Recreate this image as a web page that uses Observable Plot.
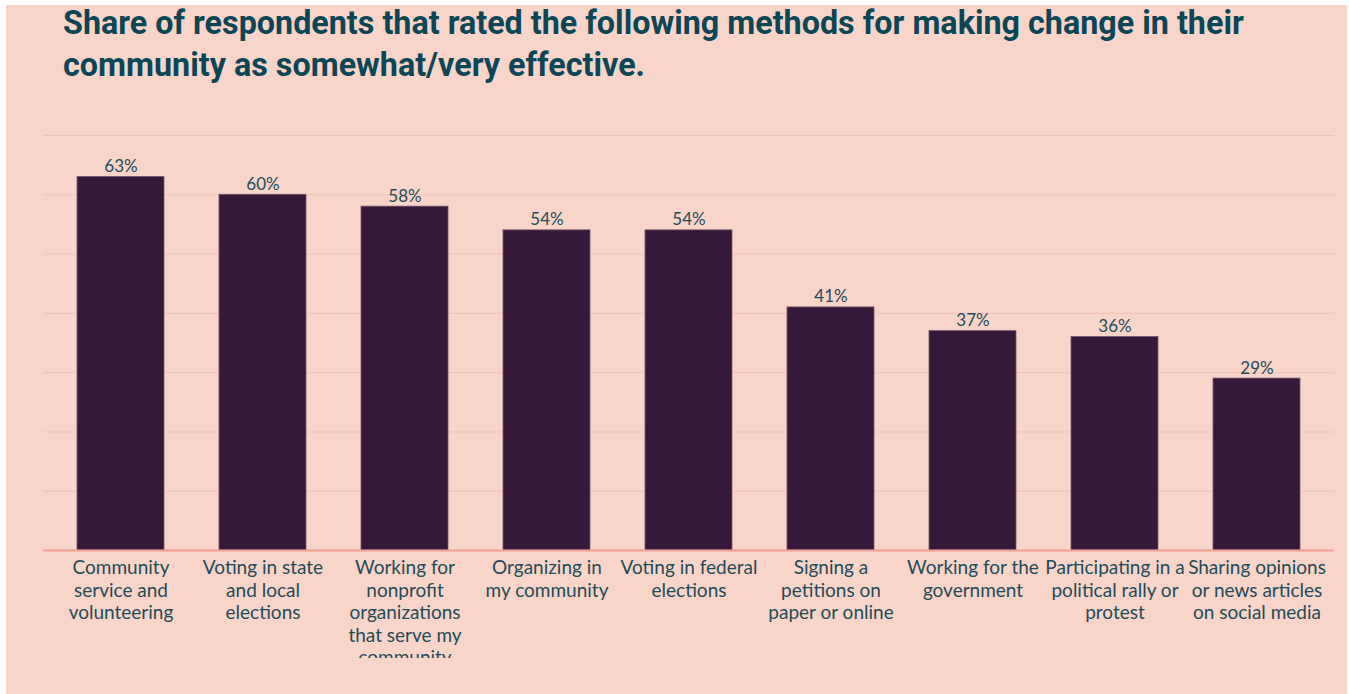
<!DOCTYPE html>
<html><head><meta charset="utf-8">
<script src="https://cdn.jsdelivr.net/npm/d3@7"></script>
<script src="https://cdn.jsdelivr.net/npm/@observablehq/plot@0.6"></script>
<style>
body{margin:0;background:#fff;width:1349px;height:694px;overflow:hidden;position:relative;font-family:Lato,sans-serif}
#card{position:absolute;left:6px;top:5px;width:1341px;height:689px;background:#F9D4C9}
#title{position:absolute;left:63px;top:2px;margin:0;font:700 32.3px/42px Roboto,sans-serif;color:#0B4656;white-space:nowrap}
#chart{position:absolute;left:0;top:0;width:1349px;height:658px;overflow:hidden}
</style></head>
<body>
<div id="card"></div>
<h1 id="title">Share of respondents that rated the following methods for making change in their<br>community as somewhat/very effective.</h1>
<div id="chart"></div>
<script>
const categories = [
  "Community\nservice and\nvolunteering",
  "Voting in state\nand local\nelections",
  "Working for\nnonprofit\norganizations\nthat serve my\ncommunity",
  "Organizing in\nmy community",
  "Voting in federal\nelections",
  "Signing a\npetitions on\npaper or online",
  "Working for the\ngovernment",
  "Participating in a\npolitical rally or\nprotest",
  "Sharing opinions\nor news articles\non social media"
];
const values = [63, 60, 58, 54, 54, 41, 37, 36, 29];
const gridTicks = [10, 20, 30, 40, 50, 60, 70];

const data = categories.map((c, i) => ({cat: c, v: values[i]}));

const chart = Plot.plot({
  width: 1349,
  height: 694,
  marginLeft: 43,
  marginRight: 15,
  marginTop: 135,
  marginBottom: 144,
  style: {background: "transparent", fontFamily: "Lato, sans-serif"},
  x: {domain: categories, paddingInner: 0.39, paddingOuter: 0.21, align: 0.5, label: null},
  y: {domain: [0, 70], label: null, axis: null},
  marks: [
    Plot.gridY(gridTicks, {stroke: "#F3C2B7", strokeOpacity: 1, strokeWidth: 1}),
    Plot.barY(data, {x: "cat", y: "v", fill: "#36183A", stroke: "#7A5670", strokeWidth: 0.8}),
    Plot.ruleY([0], {stroke: "#F2A093", strokeWidth: 2}),
    Plot.text(data, {x: "cat", y: "v", text: d => d.v + "%", dy: -5, lineAnchor: "bottom", fontSize: 17, fill: "#1E4B57"}),
    Plot.axisX({tickSize: 0, tickPadding: 8, fontSize: 19, lineHeight: 1.18, fill: "#1E4B57", label: null})
  ]
});
document.getElementById("chart").appendChild(chart);
</script>
</body></html>
